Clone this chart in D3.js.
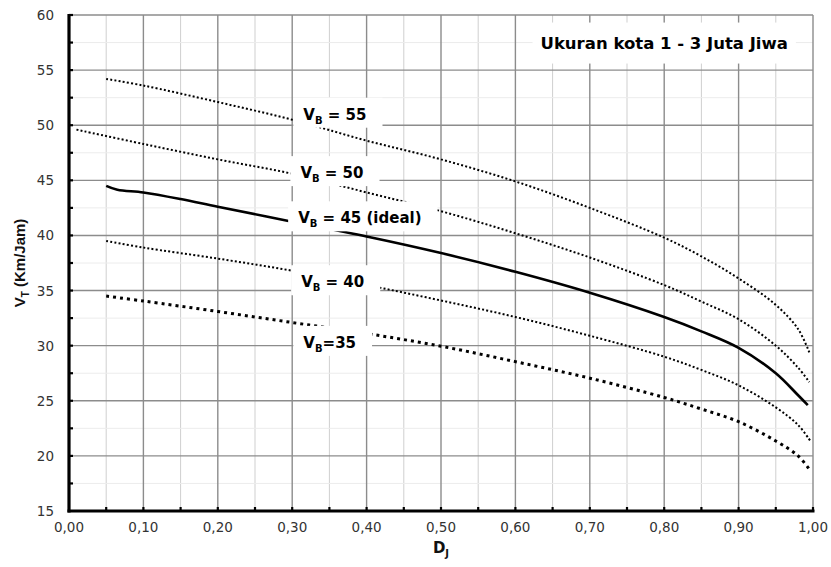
<!DOCTYPE html>
<html><head><meta charset="utf-8">
<script src="https://cdn.jsdelivr.net/npm/d3@7/dist/d3.min.js"></script>
<style>body{margin:0;background:#fff}</style>
</head><body><svg id="c" width="831" height="567"></svg>
<script>
// ---- data ----
const dj55 = [0.05,0.10,0.20,0.30,0.40,0.50,0.60,0.70,0.80,0.85,0.90,0.95,0.98,0.995];
const vt55 = [54.2,53.6,52.1,50.5,48.6,46.9,44.9,42.5,39.8,38.1,36.1,33.7,31.5,29.4];
const dj50 = [0.01,0.10,0.20,0.30,0.40,0.50,0.60,0.70,0.80,0.85,0.90,0.95,0.98,0.995];
const vt50 = [49.6,48.3,46.9,45.6,43.9,42.2,40.2,38.0,35.5,34.0,32.4,30.0,28.0,26.7];
const dj45 = [0.05,0.065,0.10,0.15,0.20,0.30,0.40,0.50,0.60,0.70,0.80,0.85,0.90,0.95,0.98,0.993];
const vt45 = [44.5,44.15,43.9,43.3,42.6,41.25,39.9,38.4,36.7,34.8,32.6,31.3,29.8,27.5,25.5,24.6];
const dj40 = [0.05,0.10,0.20,0.30,0.40,0.50,0.60,0.70,0.80,0.85,0.90,0.95,0.98,0.996];
const vt40 = [39.5,38.9,37.9,36.8,35.5,34.1,32.6,30.9,29.0,27.8,26.4,24.4,22.8,21.4];
const dj35 = [0.05,0.10,0.20,0.30,0.40,0.50,0.60,0.70,0.80,0.85,0.90,0.95,0.98,0.996];
const vt35 = [34.5,34.05,33.1,32.1,31.1,29.95,28.55,27.05,25.3,24.25,23.1,21.35,20.0,18.7];

const seriesNames = ["55","50","45","40","35"];
const labelMain = ["55","50","45 (ideal)","40","35"];
const labelSep = [" = "," = "," = "," = ","="];
const labelDJ = [0.315,0.311,0.308,0.312,0.315];
const labelVT = [50.5,45.2,41.1,35.3,29.8];

const xTickValues = [0,0.1,0.2,0.3,0.4,0.5,0.6,0.7,0.8,0.9,1.0];
const xTickLabels = ["0,00","0,10","0,20","0,30","0,40","0,50","0,60","0,70","0,80","0,90","1,00"];
const yTickValues = [15,20,25,30,35,40,45,50,55,60];
const titleText = "Ukuran kota 1 - 3 Juta Jiwa";

// ---- layout ----
const W = 831, H = 567;
const m = {l:69, r:18, t:15, b:56};
const svg = d3.select("#c");
const x = d3.scaleLinear().domain([0,1]).range([m.l, W - m.r]);
const y = d3.scaleLinear().domain([15,60]).range([H - m.b, m.t]);
const font = "'DejaVu Sans', sans-serif";

// grid
const g = svg.append("g");
const minorX = d3.range(0.05, 1.0, 0.1);
const minorY = d3.range(17.5, 60, 5);
g.selectAll(".mx").data(minorX).join("line")
  .attr("x1", d=>x(d)).attr("x2", d=>x(d)).attr("y1", y(15)).attr("y2", y(60))
  .attr("stroke", "#cfcfcf").attr("stroke-width", 1);
g.selectAll(".my").data(minorY).join("line")
  .attr("x1", x(0)).attr("x2", x(1)).attr("y1", d=>y(d)).attr("y2", d=>y(d))
  .attr("stroke", "#ececec").attr("stroke-width", 1);
g.selectAll(".Mx").data(xTickValues.slice(1)).join("line")
  .attr("x1", d=>x(d)).attr("x2", d=>x(d)).attr("y1", y(15)).attr("y2", y(60))
  .attr("stroke", "#8c8c8c").attr("stroke-width", 1.4);
g.selectAll(".My").data(yTickValues.slice(1)).join("line")
  .attr("x1", x(0)).attr("x2", x(1)).attr("y1", d=>y(d)).attr("y2", d=>y(d))
  .attr("stroke", "#8c8c8c").attr("stroke-width", 1.4);

// series
const line = d3.line().x(d=>x(d[0])).y(d=>y(d[1])).curve(d3.curveCatmullRom.alpha(0.5));
const zip = (a,b) => a.map((v,i)=>[v,b[i]]);
const series = [
  {d: zip(dj55, vt55), w: 2, dash: "2,2.2"},
  {d: zip(dj50, vt50), w: 2, dash: "2,2.2"},
  {d: zip(dj45, vt45), w: 2.6, dash: null},
  {d: zip(dj40, vt40), w: 2, dash: "2,2.2"},
  {d: zip(dj35, vt35), w: 3, dash: "3,4"}
];
series.forEach(s => {
  svg.append("path").attr("d", line(s.d)).attr("fill","none")
    .attr("stroke","#000").attr("stroke-width", s.w)
    .attr("stroke-dasharray", s.dash);
});

// axes
const ax = svg.append("g");
ax.append("line").attr("x1", x(0)).attr("x2", x(0)).attr("y1", y(60)-1).attr("y2", y(15)+1.5)
  .attr("stroke","#000").attr("stroke-width",3.2);
ax.append("line").attr("x1", x(0)-1.5).attr("x2", x(1)+1.5).attr("y1", y(15)).attr("y2", y(15))
  .attr("stroke","#000").attr("stroke-width",3.2);
ax.selectAll(".tx").data(d3.range(0.05, 1.01, 0.05)).join("line")
  .attr("x1", d=>x(d)).attr("x2", d=>x(d)).attr("y1", y(15)).attr("y2", y(15)-4)
  .attr("stroke","#000").attr("stroke-width",2.2);
ax.selectAll(".ty").data(d3.range(17.5, 60.1, 2.5)).join("line")
  .attr("x1", x(0)).attr("x2", x(0)+4).attr("y1", d=>y(d)).attr("y2", d=>y(d))
  .attr("stroke","#000").attr("stroke-width",2.2);

ax.selectAll(".xl").data(xTickValues).join("text")
  .attr("x", d=>x(d)).attr("y", y(15)+21).attr("text-anchor","middle")
  .attr("font-family", font).attr("font-size", 13.5).attr("fill","#333")
  .text((d,i)=>xTickLabels[i]);
ax.selectAll(".yl").data(yTickValues).join("text")
  .attr("x", x(0)-15).attr("y", d=>y(d)+5).attr("text-anchor","end")
  .attr("font-family", font).attr("font-size", 13.5).attr("fill","#333")
  .text(d=>d);

// axis titles
const yt = svg.append("text").attr("transform", `translate(25,${(y(15)+y(60))/2}) rotate(-90)`)
  .attr("text-anchor","middle").attr("font-family","'Liberation Sans', Arial, sans-serif")
  .attr("font-weight","bold").attr("font-size",15).attr("fill","#111");
yt.append("tspan").text("V");
yt.append("tspan").attr("font-size",10).attr("dy",4).text("T");
yt.append("tspan").attr("dy",-4).text(" (Km/Jam)");
const xt = svg.append("text").attr("x", x(0.5)).attr("y", 553)
  .attr("text-anchor","middle").attr("font-family",font)
  .attr("font-weight","bold").attr("font-size",15).attr("fill","#111");
xt.append("tspan").text("D");
xt.append("tspan").attr("font-size",10).attr("dy",4).text("J");

// series labels with white boxes
labelMain.forEach((t,i) => {
  const lg = svg.append("g");
  const bg = lg.append("rect").attr("fill","#fff");
  const tx = lg.append("text").attr("x", x(labelDJ[i])).attr("y", y(labelVT[i]))
    .attr("font-family",font).attr("font-weight","bold").attr("font-size",15).attr("fill","#000");
  tx.append("tspan").text("V");
  tx.append("tspan").attr("font-size",10).attr("dy",4).text("B");
  tx.append("tspan").attr("dy",-4).text(labelSep[i] + t);
  const b = tx.node().getBBox();
  bg.attr("x", b.x-10).attr("y", b.y-8).attr("width", b.width+26).attr("height", b.height+10);
});

// title box
const tg = svg.append("g");
const tbg = tg.append("rect").attr("fill","#fff");
const tt = tg.append("text").attr("x", x(0.8)).attr("y", y(57.5)+6)
  .attr("text-anchor","middle").attr("font-family",font).attr("font-weight","bold")
  .attr("font-size",16.5).attr("fill","#000").text(titleText);
const tb = tt.node().getBBox();
tbg.attr("x", tb.x-8).attr("y", tb.y-11).attr("width", tb.width+16).attr("height", tb.height+22);
</script></body></html>
